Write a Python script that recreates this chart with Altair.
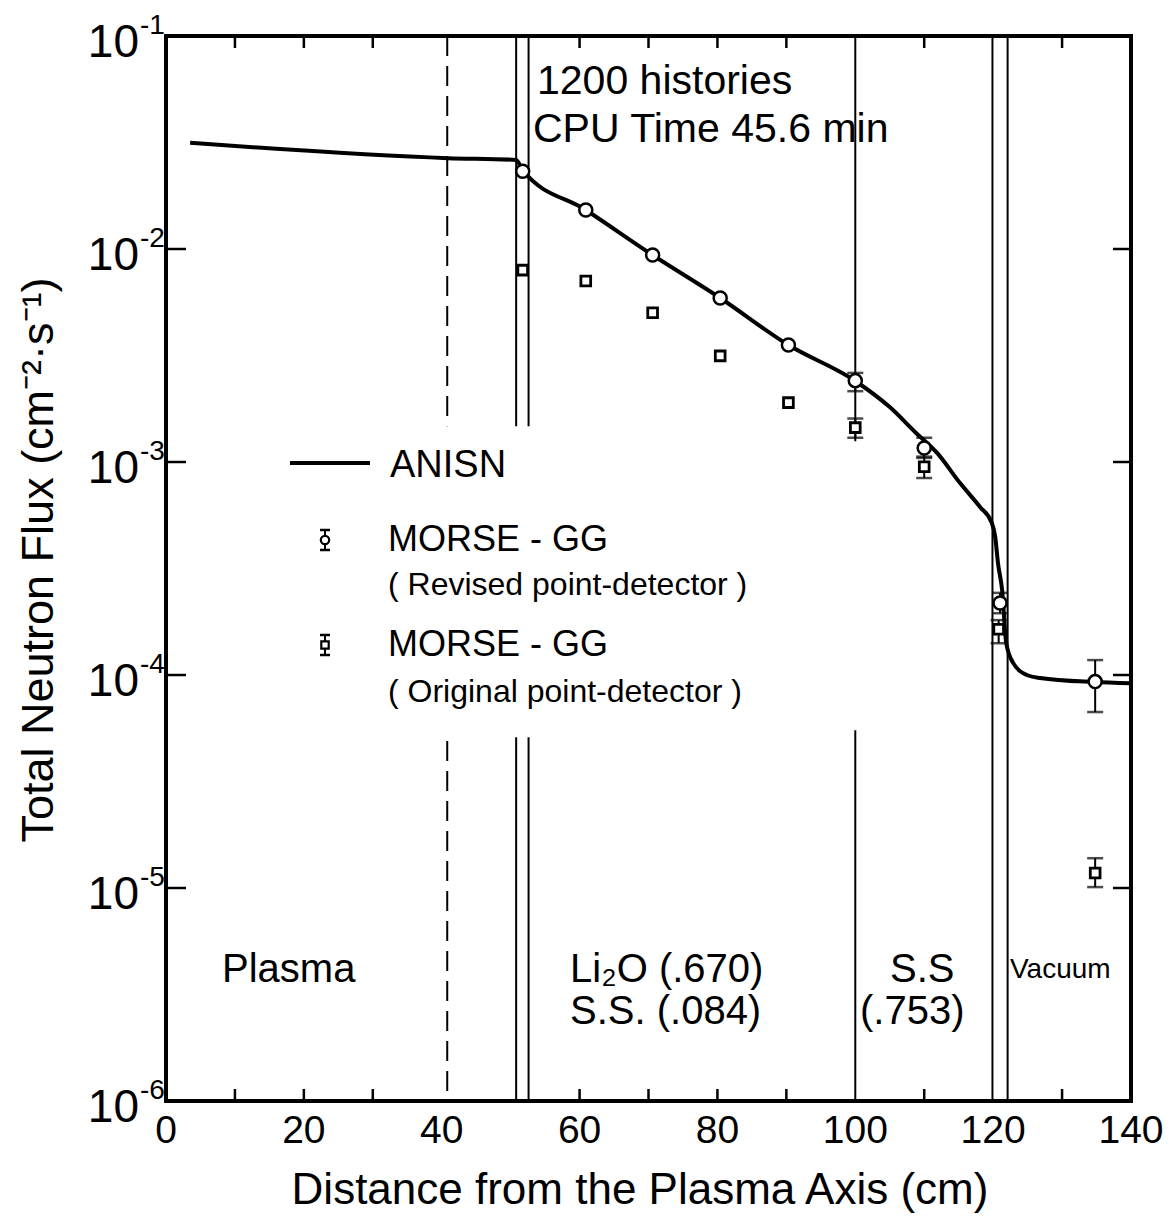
import altair as alt
import pandas as pd

W, H = 965, 1065
FONT = "Liberation Sans"

# ---------------- data ----------------
anisn_x = [3.5, 40.9, 50.8, 51.75, 60.9, 70.6, 80.4, 90.3, 100.0, 105.0, 108.7, 111.9,
           115.2, 118.1, 119.8, 120.3, 120.7, 121.3, 121.9, 122.9, 124.9, 126.8, 134.5, 140.0]
anisn_y = [0.0315, 0.0267, 0.0262, 0.0234, 0.01525, 0.00937, 0.00589, 0.00354, 0.00240,
           1.81e-3, 1.38e-3, 1.10e-3, 7.96e-4, 6.15e-4, 5.18e-4, 4.45e-4, 3.36e-4, 2.51e-4,
           1.41e-4, 1.14e-4, 1.00e-4, 9.68e-5, 9.27e-5, 9.15e-5]

rev_x = [51.75, 60.9, 70.6, 80.4, 90.3, 100.0, 110.0, 121.0, 134.8]
rev_y = [0.0232, 0.01525, 0.00937, 0.00589, 0.00354, 0.00241, 0.001164, 2.18e-4, 9.31e-5]
rev_err_x = [100.0, 110.0, 121.0, 134.8]
rev_err_lo = [2.15e-3, 1.045e-3, 1.95e-4, 6.70e-5]
rev_err_hi = [2.62e-3, 1.30e-3, 2.43e-4, 1.175e-4]

orig_x = [51.75, 60.9, 70.6, 80.4, 90.3, 100.0, 110.0, 120.8, 134.8]
orig_y = [7.96e-3, 7.08e-3, 5.02e-3, 3.15e-3, 1.90e-3, 1.45e-3, 9.5e-4, 1.64e-4, 1.175e-5]
orig_err_x = [100.0, 110.0, 120.8, 134.8]
orig_err_lo = [1.30e-3, 8.41e-4, 1.41e-4, 1.01e-5]
orig_err_hi = [1.60e-3, 1.06e-3, 1.81e-4, 1.38e-5]

# region boundaries (solid) and plasma edge (dashed)
solid_x = [50.8, 50.8, 52.6, 52.6, 100.0, 100.0, 119.9, 122.1]
solid_top = [1e-1, 5.1e-5, 1e-1, 5.1e-5, 1e-1, 5.5e-5, 1e-1, 1e-1]
solid_bot = [1.47e-3, 1e-6, 1.47e-3, 1e-6, 1.25e-3, 1e-6, 1e-6, 1e-6]
dash_x = [40.8, 40.8]
dash_top = [1e-1, 4.9e-5]
dash_bot = [1.47e-3, 1e-6]

x_tick_labels = [0, 20, 40, 60, 80, 100, 120, 140]
x_minor_ticks = [10, 20, 30, 60, 70, 80, 90, 110, 130]
y_decades = [1e-1, 1e-2, 1e-3, 1e-4, 1e-5, 1e-6]
y_exponents = ["-1", "-2", "-3", "-4", "-5", "-6"]
y_inner_ticks = [1e-2, 1e-3, 1e-4, 1e-5]

# ---------------- scales ----------------
xs = alt.Scale(domain=[0, 140], nice=False, zero=False)
ys = alt.Scale(type="log", domain=[1e-6, 1e-1], nice=False)

def X(f):
    return alt.X(f, type="quantitative", scale=xs, axis=None)

def Y(f):
    return alt.Y(f, type="quantitative", scale=ys, axis=None)

anisn_df = pd.DataFrame({"x": anisn_x, "y": anisn_y})
rev_df = pd.DataFrame({"x": rev_x, "y": rev_y})
orig_df = pd.DataFrame({"x": orig_x, "y": orig_y})
rev_err_df = pd.DataFrame({"x": rev_err_x, "lo": rev_err_lo, "hi": rev_err_hi})
orig_err_df = pd.DataFrame({"x": orig_err_x, "lo": orig_err_lo, "hi": orig_err_hi})
solid_df = pd.DataFrame({"x": solid_x, "top": solid_top, "bot": solid_bot})
dash_df = pd.DataFrame({"x": dash_x, "top": dash_top, "bot": dash_bot})
xlab_df = pd.DataFrame({"x": x_tick_labels, "t": [str(v) for v in x_tick_labels]})
xminor_df = pd.DataFrame({"x": x_minor_ticks})
ylab_df = pd.DataFrame({"v": y_decades, "e": y_exponents})
ytick_df = pd.DataFrame({"v": y_inner_ticks})

layers = []

# x tick labels
layers.append(alt.Chart(xlab_df).mark_text(font=FONT, fontSize=39, align="center", baseline="middle",
                                           color="black").encode(
    x=X("x"), y=alt.value(H + 30), text="t:N"))

# vertical boundaries
layers.append(alt.Chart(solid_df).mark_rule(color="black", strokeWidth=2).encode(
    x=X("x"), y=Y("top"), y2="bot"))
layers.append(alt.Chart(dash_df).mark_rule(color="black", strokeWidth=2, strokeDash=[20, 10]).encode(
    x=X("x"), y=Y("top"), y2="bot"))

# ticks (inward)
layers.append(alt.Chart(xminor_df).mark_rule(color="black", strokeWidth=2.5).encode(
    x=X("x"), y=alt.value(H), y2=alt.value(H - 12)))
layers.append(alt.Chart(xminor_df).mark_rule(color="black", strokeWidth=2.5).encode(
    x=X("x"), y=alt.value(0), y2=alt.value(12)))
layers.append(alt.Chart(ytick_df).mark_rule(color="black", strokeWidth=2.5).encode(
    y=Y("v"), x=alt.value(0), x2=alt.value(20)))
layers.append(alt.Chart(ytick_df).mark_rule(color="black", strokeWidth=2.5).encode(
    y=Y("v"), x=alt.value(W - 18), x2=alt.value(W)))

# y tick labels 10^-n
layers.append(alt.Chart(ylab_df).mark_text(font=FONT, fontSize=46, align="right", baseline="middle",
                                           dy=7, color="black").encode(
    y=Y("v"), x=alt.value(-27), text=alt.value("10")))
layers.append(alt.Chart(ylab_df).mark_text(font=FONT, fontSize=28, align="left", baseline="middle",
                                           dy=-10, color="black").encode(
    y=Y("v"), x=alt.value(-26), text="e:N"))

# ANISN curve
layers.append(alt.Chart(anisn_df).mark_line(color="black", strokeWidth=4, interpolate="monotone").encode(
    x=X("x"), y=Y("y"), order="x:Q"))

# error bars
for df in (rev_err_df, orig_err_df):
    layers.append(alt.Chart(df).mark_rule(color="black", strokeWidth=2).encode(
        x=X("x"), y=Y("lo"), y2="hi"))
    layers.append(alt.Chart(df).mark_tick(color="black", orient="horizontal", size=16, thickness=2.5).encode(
        x=X("x"), y=Y("lo")))
    layers.append(alt.Chart(df).mark_tick(color="black", orient="horizontal", size=16, thickness=2.5).encode(
        x=X("x"), y=Y("hi")))

# markers
layers.append(alt.Chart(orig_df).mark_point(shape="square", size=95, filled=False, fill="white",
                                            fillOpacity=1, color="black", strokeWidth=2.8).encode(
    x=X("x"), y=Y("y")))
layers.append(alt.Chart(rev_df).mark_point(shape="circle", size=170, filled=False, fill="white",
                                           fillOpacity=1, color="black", strokeWidth=2.5).encode(
    x=X("x"), y=Y("y")))

# ---------------- text annotations (pixel positions in plot area) ----------------
one = xlab_df.head(1)

def txt(s, px, py, size, angle=0, align="left", font=FONT):
    kw = dict(font=font, fontSize=size, align=align, baseline="middle", color="black")
    if angle:
        kw["angle"] = angle
    return alt.Chart(one).mark_text(**kw).encode(
        x=alt.value(px), y=alt.value(py), text=alt.value(s))

layers += [
    txt("1200  histories", 371, 46, 41),
    txt("CPU Time 45.6 min", 367, 94, 41),
    txt("Plasma", 56, 934, 40),
    txt("Li₂O (.670)", 404, 934, 40),
    txt("S.S.  (.084)", 404, 976, 40),
    txt("S.S", 724, 934, 40),
    txt("(.753)", 694, 976, 40),
    txt("Vacuum", 844, 934, 28),
    # legend
    txt("ANISN", 224, 430, 38),
    txt("MORSE - GG", 222, 504, 36),
    txt("( Revised  point-detector )", 222, 549, 32),
    txt("MORSE - GG", 222, 609, 36),
    txt("( Original  point-detector )", 222, 656, 32),
    # axis titles
    txt("Total Neutron Flux (cm⁻²·s⁻¹)", -127, 524, 45, angle=270, align="center"),
    txt("Distance  from  the  Plasma  Axis (cm)", 474, 1155, 44, align="center"),
]

# legend symbols
layers.append(alt.Chart(one).mark_rule(color="black", strokeWidth=4).encode(
    x=alt.value(124), x2=alt.value(204), y=alt.value(427)))
for cy, shape, sz in ((504, "circle", 70), (609, "square", 55)):
    layers.append(alt.Chart(one).mark_rule(color="black", strokeWidth=2).encode(
        x=alt.value(159), y=alt.value(cy - 10), y2=alt.value(cy + 10)))
    layers.append(alt.Chart(one).mark_rule(color="black", strokeWidth=2.5).encode(
        x=alt.value(154), x2=alt.value(164), y=alt.value(cy - 10)))
    layers.append(alt.Chart(one).mark_rule(color="black", strokeWidth=2.5).encode(
        x=alt.value(154), x2=alt.value(164), y=alt.value(cy + 10)))
    layers.append(alt.Chart(one).mark_point(shape=shape, size=sz, filled=False, fill="white",
                                            fillOpacity=1, color="black", strokeWidth=2.2).encode(
        x=alt.value(159), y=alt.value(cy)))

chart = alt.layer(*layers).properties(
    width=W, height=H,
    autosize=alt.AutoSizeParams(type="none"),
    padding={"left": 158, "top": 28, "right": 34, "bottom": 118},
    background="white",
).configure_view(stroke="black", strokeWidth=4)

chart.save("out.html", embed_options={"renderer": "svg", "actions": False})
